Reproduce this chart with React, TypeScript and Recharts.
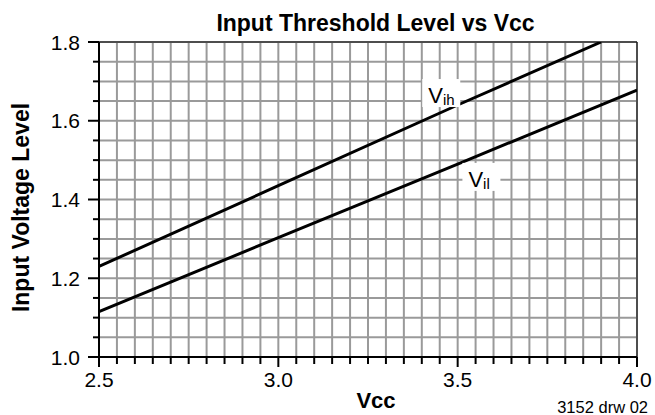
import { LineChart, Line, XAxis, YAxis, CartesianGrid, ReferenceLine, ReferenceDot } from 'recharts';

// ── Data ─────────────────────────────────────────────────────────────────────

const vihPoints = [
  { x: 2.5, y: 1.23 },
  { x: 3.0, y: 1.435 },
  { x: 3.5, y: 1.64 },
  { x: 3.9, y: 1.8 },
];

const vilPoints = [
  { x: 2.5, y: 1.115 },
  { x: 3.0, y: 1.303 },
  { x: 3.5, y: 1.49 },
  { x: 4.0, y: 1.678 },
];

// grid / tick positions (every 0.05)
const xTicks = [
  2.5, 2.55, 2.6, 2.65, 2.7, 2.75, 2.8, 2.85, 2.9, 2.95,
  3.0, 3.05, 3.1, 3.15, 3.2, 3.25, 3.3, 3.35, 3.4, 3.45,
  3.5, 3.55, 3.6, 3.65, 3.7, 3.75, 3.8, 3.85, 3.9, 3.95, 4.0,
];
const xLabels = ['2.5', '3.0', '3.5', '4.0'];

const yTicks = [
  1.0, 1.05, 1.1, 1.15, 1.2, 1.25, 1.3, 1.35, 1.4,
  1.45, 1.5, 1.55, 1.6, 1.65, 1.7, 1.75, 1.8,
];
const yLabels = ['1.0', '1.2', '1.4', '1.6', '1.8'];

// curve name tags: V + subscript, anchored at baseline-left of the "V"
const curveTags = [
  { main: 'V', sub: 'ih', x: 3.418, y: 1.645 },
  { main: 'V', sub: 'il', x: 3.53, y: 1.432 },
];

const FONT = "'Liberation Sans', Arial, Helvetica, sans-serif";

// ── Custom ticks ─────────────────────────────────────────────────────────────

function XTick({ x, y, payload }: any) {
  const label = payload.value.toFixed(1);
  const major = xLabels.includes(label) && Math.abs(payload.value * 2 - Math.round(payload.value * 2)) < 1e-6;
  return (
    <g>
      <line x1={x} x2={x} y1={y} y2={y + (major ? 10 : 7)} stroke="#000" strokeWidth={2} />
      {major && (
        <text x={x} y={y + 30} textAnchor="middle" fontSize={21} fontFamily={FONT} fill="#000">
          {label}
        </text>
      )}
    </g>
  );
}

function YTick({ x, y, payload }: any) {
  const label = payload.value.toFixed(1);
  const major = yLabels.includes(label) && Math.abs(payload.value * 5 - Math.round(payload.value * 5)) < 1e-6;
  return (
    <g>
      <line x1={x} x2={x - (major ? 11 : 6)} y1={y} y2={y} stroke="#000" strokeWidth={2} />
      {major && (
        <text x={x - 19} y={y} dy="0.36em" textAnchor="end" fontSize={21} fontFamily={FONT} fill="#000">
          {label}
        </text>
      )}
    </g>
  );
}

function XLabel({ viewBox }: any) {
  const cx = viewBox.x + viewBox.width / 2 + 8;
  return (
    <text x={cx} y={408} textAnchor="middle" fontSize={22} fontWeight="bold" fontFamily={FONT} fill="#000">
      Vcc
    </text>
  );
}

function YLabel({ viewBox }: any) {
  const cx = 29;
  const cy = viewBox.y + viewBox.height / 2 + 8;
  return (
    <text x={cx} y={cy} transform={`rotate(-90 ${cx} ${cy})`} textAnchor="middle"
      fontSize={23} fontWeight="bold" fontFamily={FONT} fill="#000">
      Input Voltage Level
    </text>
  );
}

function makeTag(main: string, sub: string) {
  return ({ cx, cy }: any) => (
    <g>
      <rect x={cx - 6} y={cy - 24} width={38} height={28} fill="#fff" />
      <text x={cx} y={cy} fontSize={22} fontFamily={FONT} fill="#000">
        {main}
        <tspan fontSize={15} dy={2}>{sub}</tspan>
      </text>
    </g>
  );
}

// ── Main component ──────────────────────────────────────────────────────────

export default function App() {
  return (
    <div style={{ position: 'absolute', left: 0, top: 0, width: 655, height: 415, background: '#fff' }}>
      <LineChart width={655} height={415} margin={{ top: 42, right: 18, bottom: 0, left: 0 }}>
        <CartesianGrid stroke="#9a9a9a" strokeWidth={2} />
        <XAxis
          type="number" dataKey="x" domain={[2.5, 4.0]} ticks={xTicks} interval={0}
          allowDataOverflow height={58} tickSize={0} tickMargin={0} tickLine={false}
          tick={<XTick />} axisLine={{ stroke: '#000', strokeWidth: 2 }}
          label={<XLabel />}
        />
        <YAxis
          type="number" dataKey="y" domain={[1.0, 1.8]} ticks={yTicks} interval={0}
          allowDataOverflow width={99} tickSize={0} tickMargin={0} tickLine={false}
          tick={<YTick />} axisLine={{ stroke: '#000', strokeWidth: 2 }}
          label={<YLabel />}
        />
        <ReferenceLine y={1.8} stroke="#000" strokeWidth={1} />
        <ReferenceLine x={4.0} stroke="#000" strokeWidth={1} />
        {curveTags.map(t => (
          <ReferenceDot key={t.sub} x={t.x} y={t.y} r={1} shape={makeTag(t.main, t.sub)} />
        ))}
        <Line data={vihPoints} dataKey="y" name="Vih" stroke="#000" strokeWidth={3} dot={false} isAnimationActive={false} />
        <Line data={vilPoints} dataKey="y" name="Vil" stroke="#000" strokeWidth={3} dot={false} isAnimationActive={false} />
      </LineChart>
      <svg width={655} height={415} style={{ position: 'absolute', left: 0, top: 0, pointerEvents: 'none' }}>
        <text x={375.5} y={31} textAnchor="middle" fontSize={23} fontWeight="bold" fontFamily={FONT} fill="#000">
          Input Threshold Level vs Vcc
        </text>
        <text x={648} y={413} textAnchor="end" fontSize={16.5} fontFamily={FONT} fill="#000">
          3152 drw 02
        </text>
      </svg>
    </div>
  );
}
